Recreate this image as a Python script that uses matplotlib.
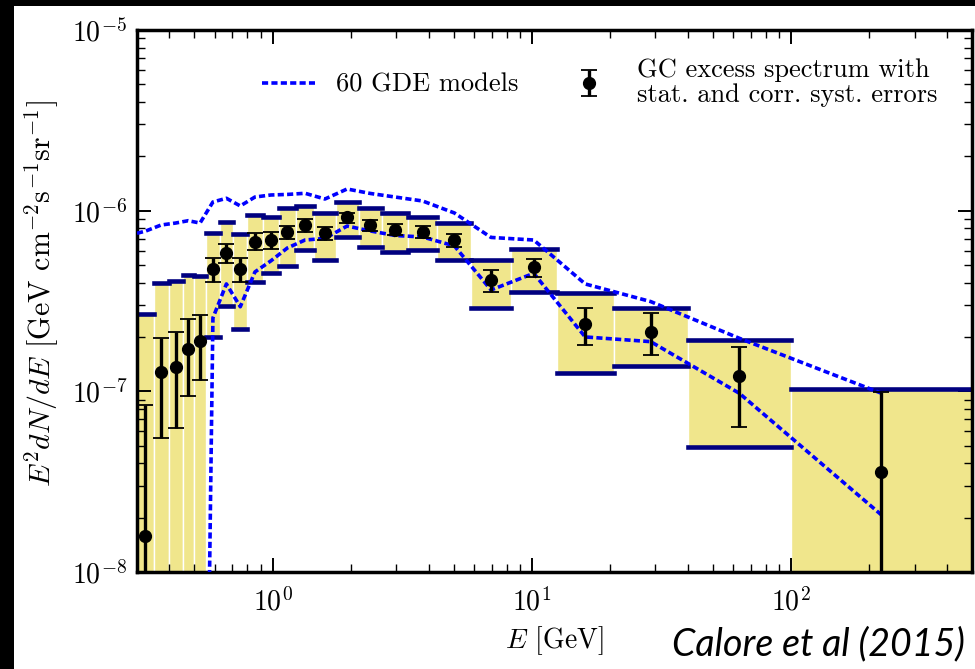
import matplotlib
matplotlib.use('Agg')
import matplotlib.pyplot as plt
from matplotlib.patches import Rectangle
import numpy as np

plt.rcParams['font.family'] = 'cmr10'
plt.rcParams['mathtext.fontset'] = 'cm'
plt.rcParams['axes.formatter.use_mathtext'] = True

# energy bin edges [GeV]
bin_edges = [0.30, 0.348, 0.397, 0.450, 0.497, 0.555, 0.625, 0.705, 0.80, 0.915,
             1.06, 1.23, 1.45, 1.75, 2.15, 2.65, 3.33, 4.33, 5.85, 8.3,
             12.5, 20.7, 40.0, 100.0, 500.0]

# GC excess, E^2 dN/dE [GeV cm^-2 s^-1 sr^-1]
flux = [1.59e-8, 1.28e-7, 1.37e-7, 1.72e-7, 1.91e-7, 4.78e-7, 5.86e-7, 4.78e-7,
        6.74e-7, 6.88e-7, 7.65e-7, 8.33e-7, 7.55e-7, 9.19e-7, 8.33e-7, 7.82e-7,
        7.65e-7, 6.88e-7, 4.11e-7, 4.86e-7, 2.36e-7, 2.14e-7, 1.21e-7, 3.59e-8]
# statistical error range
stat_lo = [1e-9, 5.50e-8, 6.25e-8, 9.43e-8, 1.15e-7, 4.05e-7, 5.15e-7, 4.05e-7,
           6.06e-7, 6.14e-7, 6.97e-7, 7.65e-7, 6.88e-7, 8.52e-7, 7.75e-7, 7.34e-7,
           7.04e-7, 6.27e-7, 3.56e-7, 4.28e-7, 1.81e-7, 1.59e-7, 6.38e-8, 1e-9]
stat_hi = [8.41e-8, 1.98e-7, 2.13e-7, 2.52e-7, 2.65e-7, 5.49e-7, 6.52e-7, 5.49e-7,
           7.50e-7, 7.60e-7, 8.26e-7, 8.99e-7, 8.15e-7, 9.75e-7, 8.88e-7, 8.44e-7,
           8.26e-7, 7.43e-7, 4.68e-7, 5.38e-7, 2.90e-7, 2.70e-7, 1.77e-7, 9.96e-8]
# correlated systematic band
syst_lo = [1e-9, 1e-9, 1e-9, 1e-9, 1e-9, 2.00e-7, 2.96e-7, 2.21e-7,
           4.05e-7, 4.50e-7, 4.94e-7, 6.06e-7, 5.33e-7, 7.12e-7, 6.32e-7, 5.93e-7,
           6.06e-7, 5.33e-7, 2.88e-7, 3.56e-7, 1.26e-7, 1.38e-7, 4.94e-8, 1e-9]
syst_hi = [2.68e-7, 3.96e-7, 4.07e-7, 4.42e-7, 4.35e-7, 7.50e-7, 8.69e-7, 7.40e-7,
           9.47e-7, 9.19e-7, 1.03e-6, 1.06e-6, 9.67e-7, 1.12e-6, 1.03e-6, 9.67e-7,
           9.26e-7, 8.52e-7, 5.33e-7, 6.14e-7, 3.49e-7, 2.90e-7, 1.93e-7, 1.03e-7]

# envelope of the 60 GDE models (first point at the lowest bin edge, then bin centres)
gde_upper = [7.50e-7, 7.70e-7, 8.33e-7, 8.54e-7, 8.80e-7, 8.54e-7, 1.117e-6, 1.171e-6,
             1.062e-6, 1.19e-6, 1.221e-6, 1.23e-6, 1.248e-6, 1.16e-6, 1.318e-6,
             1.245e-6, 1.19e-6, 1.131e-6, 9.71e-7, 7.11e-7, 6.88e-7, 3.93e-7,
             3.14e-7, 1.967e-7, 9.76e-8]
gde_lower = [1e-12, 1e-12, 1e-12, 1e-12, 1e-12, 1e-12, 2.55e-7, 3.93e-7,
             2.94e-7, 4.58e-7, 5.27e-7, 6.22e-7, 6.88e-7, 7.02e-7, 8.22e-7,
             7.72e-7, 7.29e-7, 7.15e-7, 6.38e-7, 3.64e-7, 4.50e-7, 2.00e-7,
             1.884e-7, 9.76e-8, 2.07e-8]

edges = np.array(bin_edges)
e_left = edges[:-1]
e_right = edges[1:]
e_mid = np.sqrt(e_left * e_right)
flux = np.array(flux)
syst_lo = np.array(syst_lo)
syst_hi = np.array(syst_hi)
gde_e = np.concatenate([[edges[0]], e_mid])

fig = plt.figure(figsize=(9.75, 6.69), dpi=100)
ax = fig.add_axes([137 / 975, 1 - 572 / 669, 835 / 975, 542 / 669])

# systematic boxes
ax.bar(e_left, syst_hi - syst_lo, width=e_right - e_left, bottom=syst_lo, align='edge',
       color='#f0e68c', edgecolor='white', linewidth=1, zorder=1)
for ys in (syst_hi, syst_lo):
    lc = ax.hlines(ys, e_left, e_right, colors='#00007f', linewidth=3.3, zorder=2)
    lc.set_capstyle('projecting')

# GDE model envelope
dash = (0, (1.7, 0.9))
gde_line, = ax.plot(gde_e, gde_upper, color='#0000ff', lw=2.6, linestyle=dash, zorder=3)
ax.plot(gde_e, gde_lower, color='#0000ff', lw=2.6, linestyle=dash, zorder=3)

# data points with statistical errors
eb = ax.errorbar(e_mid, flux, yerr=[flux - np.array(stat_lo), np.array(stat_hi) - flux],
                 fmt='o', color='black', ms=8.5, elinewidth=2.4, capsize=5.5, capthick=1.3,
                 zorder=4)

ax.set_xscale('log')
ax.set_yscale('log')
ax.set_xlim(0.3, 500)
ax.set_ylim(1e-8, 1e-5)

for side in ax.spines.values():
    side.set_linewidth(2.5)
ax.tick_params(which='both', direction='in', top=True, right=True, labelsize=20)
ax.tick_params(which='major', length=10, width=1.4)
ax.tick_params(which='minor', length=6, width=1.0)
ax.tick_params(axis='x', which='major', pad=11)
ax.tick_params(axis='y', which='major', pad=7)

ax.set_xlabel(r'$E$ [GeV]', fontsize=20, labelpad=6)
ax.set_ylabel(r'$E^2dN/dE$ [GeV cm$^{-2}$s$^{-1}$sr$^{-1}$]', fontsize=21.5)
ax.yaxis.set_label_coords(-0.091, 0.513)

leg = ax.legend([gde_line, eb],
                ['60 GDE models', 'GC excess spectrum with\nstat. and corr. syst. errors'],
                ncol=2, frameon=False, loc='upper left', bbox_to_anchor=(0.137, 0.968),
                borderaxespad=0, fontsize=19, handlelength=2.0, handletextpad=0.8,
                columnspacing=1.7)
for t in leg.get_texts():
    t.set_linespacing(1.1)

fig.text(672 / 975, 1 - 655 / 669, 'Calore et al (2015)', family='Lato', style='italic',
         fontsize=27, va='baseline')

# black frame strips on the top and left edges
fig.add_artist(Rectangle((0, 1 - 6 / 669), 1, 6 / 669, transform=fig.transFigure,
                         facecolor='black', edgecolor='none', zorder=10))
fig.add_artist(Rectangle((0, 0), 14 / 975, 1, transform=fig.transFigure,
                         facecolor='black', edgecolor='none', zorder=10))

fig.savefig('out.png', dpi=100)
